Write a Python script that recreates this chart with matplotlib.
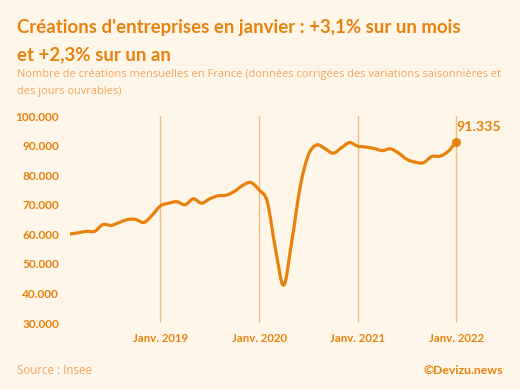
import numpy as np
import matplotlib
matplotlib.use("Agg")
import matplotlib.pyplot as plt
from matplotlib.path import Path
from matplotlib.patches import PathPatch

# monthly business creations (thousands), Feb 2018 -> Jan 2022
vals_2018 = [60.1, 60.5, 61.0, 61.0, 63.3, 63.0, 64.0, 65.0, 65.0, 64.0, 66.5]
vals_2019 = [69.6, 70.5, 71.0, 70.0, 72.0, 70.5, 72.0, 73.0, 73.2, 74.5, 76.5, 77.5]
vals_2020 = [75.0, 71.0, 55.0, 42.8, 58.0, 76.0, 86.8, 90.2, 89.0, 87.4, 89.2, 91.0]
vals_2021 = [89.8, 89.5, 89.0, 88.3, 88.9, 87.4, 85.3, 84.4, 84.2, 86.3, 86.4, 88.0]
vals_2022 = [91.335]
values = vals_2018 + vals_2019 + vals_2020 + vals_2021 + vals_2022

tick_months = [11, 23, 35, 47]
tick_labels = ["Janv. 2019", "Janv. 2020", "Janv. 2021", "Janv. 2022"]
yticks = [30, 40, 50, 60, 70, 80, 90, 100]
last_label = "91.335"

bg = "#FFF6EA"
orange = "#E8820C"
light = "#F5A65B"
grid = "#F7BD80"

plt.rcParams["font.family"] = ["Lato", "DejaVu Sans"]

fig = plt.figure(figsize=(5.2, 3.9), dpi=100, facecolor=bg)
W, H = 520, 390
ax = fig.add_axes([70 / W, (H - 323) / H, (490 - 70) / W, (323 - 116) / H])
ax.set_facecolor(bg)

x = np.arange(len(values))
y = np.array(values)

# smooth curve through the data (Catmull-Rom as cubic Bezier)
verts = [(x[0], y[0])]
codes = [Path.MOVETO]
for i in range(len(x) - 1):
    p0 = np.array([x[max(i - 1, 0)], y[max(i - 1, 0)]])
    p1 = np.array([x[i], y[i]])
    p2 = np.array([x[i + 1], y[i + 1]])
    p3 = np.array([x[min(i + 2, len(x) - 1)], y[min(i + 2, len(x) - 1)]])
    c1 = p1 + (p2 - p0) / 6
    c2 = p2 - (p3 - p1) / 6
    verts += [tuple(c1), tuple(c2), tuple(p2)]
    codes += [Path.CURVE4] * 3
ax.add_patch(PathPatch(Path(verts, codes), facecolor="none", edgecolor=orange,
                       lw=2.3, capstyle="round", joinstyle="round", zorder=3))
ax.plot(x[-1], y[-1], "o", color=orange, ms=5.5, zorder=4)
ax.annotate(last_label, (x[-1], y[-1]), xytext=(0, 6), textcoords="offset points",
            color=orange, fontsize=10.3, fontweight="bold", ha="left", va="bottom")

for m in tick_months:
    ax.axvline(m, color=grid, lw=1, zorder=1)

ax.set_xlim(0, 420 / 8.22)
ax.set_ylim(30, 100)
ax.set_xticks(tick_months)
ax.set_xticklabels(tick_labels)
ax.set_yticks(yticks)
ax.set_yticklabels([f"{v}.000" for v in yticks])
ax.tick_params(axis="both", length=0, colors=orange)
ax.tick_params(axis="y", pad=8, labelsize=8.6)
ax.tick_params(axis="x", pad=7, labelsize=8.2)
for lab in ax.get_xticklabels() + ax.get_yticklabels():
    lab.set_fontweight("bold")
for s in ax.spines.values():
    s.set_visible(False)

title_kw = dict(color=orange, fontsize=13.4, fontweight="bold", ha="left", va="baseline")
fig.text(17 / W, 1 - 33 / H, "Créations d'entreprises en janvier : +3,1% sur un mois", **title_kw)
fig.text(17 / W, 1 - 60 / H, "et +2,3% sur un an", **title_kw)
sub_kw = dict(color=light, fontsize=7.95, family=["Open Sans", "DejaVu Sans"],
              ha="left", va="baseline")
fig.text(17 / W, 1 - 77 / H,
         "Nombre de créations mensuelles en France (données corrigées des variations saisonnières et",
         **sub_kw)
fig.text(17 / W, 1 - 94 / H, "des jours ouvrables)", **sub_kw)
fig.text(17 / W, 1 - 370 / H, "Source : Insee", color=light, fontsize=8.3,
         family=["Open Sans", "DejaVu Sans"], ha="left", va="center")
fig.text(503 / W, 1 - 370 / H, "©Devizu.news", color=orange, fontsize=8.8,
         fontweight="bold", ha="right", va="center")

fig.savefig("out.png", dpi=100, facecolor=bg)
